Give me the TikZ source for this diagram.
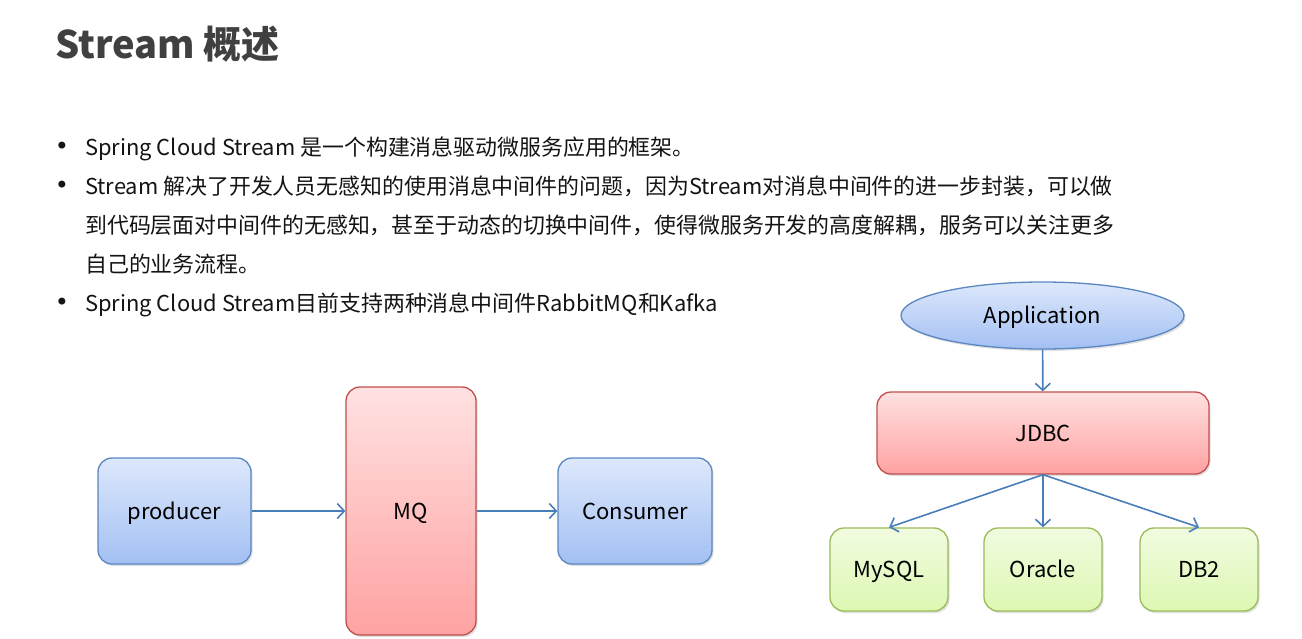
\documentclass[tikz,border=0pt]{standalone}
\usepackage{fontspec}
\setmainfont{Noto Sans CJK SC}
\newfontfamily\bulfont{DejaVu Sans}
\usetikzlibrary{arrows.meta,shadows,shapes.geometric}
\definecolor{txt}{HTML}{141414}
\definecolor{ttl}{HTML}{404040}
\definecolor{arr}{HTML}{4A7EBB}
\definecolor{bluetop}{HTML}{DDE8FB}
\definecolor{bluebot}{HTML}{A3C0F3}
\definecolor{blueln}{HTML}{5A86C2}
\definecolor{redtop}{HTML}{FFE1E1}
\definecolor{redbot}{HTML}{FFA2A2}
\definecolor{redln}{HTML}{C0504D}
\definecolor{grntop}{HTML}{F1FBE0}
\definecolor{grnbot}{HTML}{DDF8B2}
\definecolor{grnln}{HTML}{9BBB59}
\tikzset{
  bodytext/.style={anchor=base west,inner sep=0pt,text=txt,font=\fontsize{21.9}{26}\selectfont},
  bul/.style={anchor=base,inner sep=0pt,text=txt,font=\bulfont\fontsize{24}{26}\selectfont},
  boxbase/.style={rounded corners=14pt,line width=1.3pt,inner sep=0pt,text=black,
    font=\fontsize{22}{26}\selectfont,text height=16pt,text depth=0pt,
    drop shadow={shadow xshift=1.5pt,shadow yshift=-2pt,opacity=0.25,fill=gray}},
  bluebox/.style={boxbase,draw=blueln,top color=bluetop,bottom color=bluebot},
  redbox/.style={boxbase,draw=redln,top color=redtop,bottom color=redbot},
  grnbox/.style={boxbase,draw=grnln,top color=grntop,bottom color=grnbot},
  conn/.style={draw=arr,line width=1.6pt,-{Straight Barb[length=7pt,width=15pt,line width=1.6pt]}}
}
\begin{document}
\begin{tikzpicture}[x=1pt,y=-1pt]
\useasboundingbox[fill=white] (0,0) rectangle (1302,638);
% title
\node[anchor=base west,inner sep=0pt,text=ttl,font=\fontsize{38}{44}\selectfont\bfseries] (title) at (55,58) {Stream 概述};
% bullets
\node[bul] (b1) at (62,154) {•};
\node[bul] (b2) at (62,193) {•};
\node[bul] (b5) at (62,310) {•};
\node[bodytext] (l1) at (85,155) {Spring Cloud Stream 是一个构建消息驱动微服务应用的框架。};
\node[bodytext] (l2) at (85,194) {Stream 解决了开发人员无感知的使用消息中间件的问题，因为Stream对消息中间件的进一步封装，可以做};
\node[bodytext] (l3) at (85,233) {到代码层面对中间件的无感知，甚至于动态的切换中间件，使得微服务开发的高度解耦，服务可以关注更多};
\node[bodytext] (l4) at (85,272) {自己的业务流程。};
\node[bodytext] (l5) at (85,311) {Spring Cloud Stream目前支持两种消息中间件RabbitMQ和Kafka};
% left diagram
\node[bluebox,minimum width=153pt,minimum height=106pt] (prod) at (174.5,511) {producer};
\node[redbox,minimum width=130pt,minimum height=248pt] (mq) at (411,511) {MQ};
\node[bluebox,minimum width=154pt,minimum height=106pt] (cons) at (635,511) {Consumer};
\draw[conn] (prod) -- (mq);
\draw[conn] (mq) -- (cons);
% right diagram
\node[ellipse,line width=1.3pt,draw=blueln,top color=bluetop,bottom color=bluebot,
  minimum width=283pt,minimum height=67pt,inner sep=0pt,font=\fontsize{22}{26}\selectfont,
  text height=16pt,text depth=0pt,
  drop shadow={shadow xshift=1.5pt,shadow yshift=-2pt,opacity=0.25,fill=gray}] (app) at (1042.5,315.5) {Application};
\node[redbox,minimum width=332pt,minimum height=82pt] (jdbc) at (1043,433) {JDBC};
\node[grnbox,minimum width=118pt,minimum height=83pt] (mysql) at (889,569.5) {MySQL};
\node[grnbox,minimum width=118pt,minimum height=83pt] (oracle) at (1043,569.5) {Oracle};
\node[grnbox,minimum width=118pt,minimum height=83pt] (db2) at (1199,569.5) {DB2};
\draw[conn] (app) -- (jdbc);
\draw[conn] (jdbc.south) -- (mysql.north);
\draw[conn] (jdbc.south) -- (oracle.north);
\draw[conn] (jdbc.south) -- (db2.north);
\end{tikzpicture}
\end{document}
